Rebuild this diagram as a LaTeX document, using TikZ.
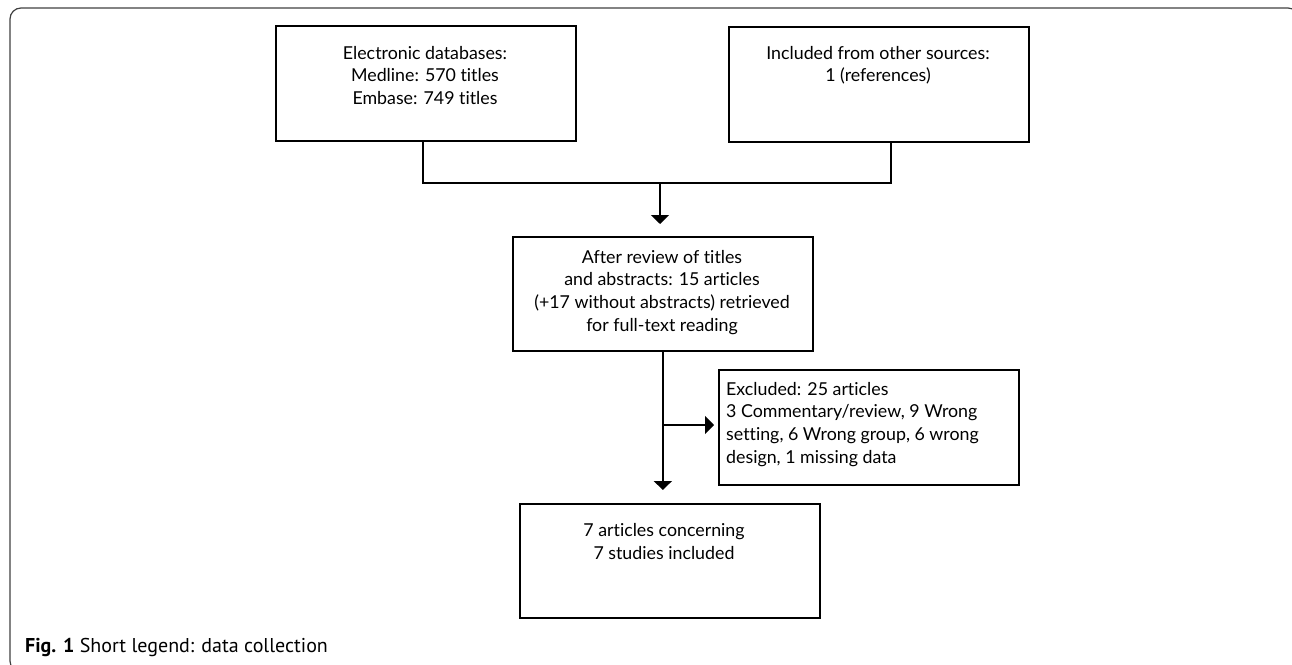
\documentclass[tikz,border=0pt]{standalone}
\usepackage{fontspec}
\setmainfont{PT Sans}
\newfontfamily\boxfont[Ligatures={NoCommon}]{Lato}
\usetikzlibrary{arrows.meta}
\begin{document}
\begin{tikzpicture}[x=1pt,y=-1pt,
  box/.style={draw, line width=1.7pt, inner sep=0pt, anchor=north west},
  txt/.style={inner sep=0pt, font=\boxfont\fontsize{17.8}{22.6}\selectfont},
  conn/.style={line width=1.7pt},
  arr/.style={line width=1.7pt, -{Triangle[width=18pt,length=9pt]}}
]
\useasboundingbox (0,0) rectangle (1292,664);
\clip (0,0) rectangle (1292,664);
% outer frame
\draw[black!75, line width=1.2pt, rounded corners=11pt] (10,8) rectangle (1299,672);
% boxes
\node[box, minimum width=300pt, minimum height=115pt] (b1) at (275,25) {};
\node[box, minimum width=300pt, minimum height=115pt] (b2) at (728,26) {};
\node[box, minimum width=300pt, minimum height=114pt] (b3) at (512,236) {};
\node[box, minimum width=300pt, minimum height=115pt] (b4) at (718,369) {};
\node[box, minimum width=300pt, minimum height=114pt] (b5) at (519,503) {};
% texts
\node[txt, anchor=north, align=center] (t1) at (425,46) {Electronic databases:\\Medline: 570 titles\\Embase: 749 titles};
\node[txt, anchor=north, align=center] (t2) at (878,46) {Included from other sources:\\1 (references)};
\node[txt, anchor=north, align=center] (t3) at (662,250) {After review of titles\\and abstracts: 15 articles\\(+17 without abstracts) retrieved\\for full-text reading};
\node[txt, anchor=north west, align=left] (t4) at (726,382) {Excluded: 25 articles\\3 Commentary/review, 9 Wrong\\setting, 6 Wrong group, 6 wrong\\design, 1 missing data};
\node[txt, anchor=north, align=center] (t5) at (664,523.5) {7 articles concerning\\7 studies included};
% connectors
\coordinate (jl) at (423,183);
\coordinate (jr) at (891,183);
\coordinate (j) at (660,183);
\draw[conn] (b1.south -| jl) -- (jl) -- (jr) -- (b2.south -| jr);
\draw[arr, shorten >=12pt] (j) -- (j |- b3.north);
\coordinate (br) at (662,425);
\coordinate (b4w) at (b4.west |- br);
\draw[arr, shorten >=13pt] (b3.south) -- (b3.south |- b5.north);
\draw[arr, shorten >=4pt] (br) -- (b4w);
% caption
\node[inner sep=0pt, anchor=base west, font=\fontsize{20}{22}\selectfont] (cap) at (25,652) {\textbf{Fig. 1} Short legend: data collection};
\end{tikzpicture}
\end{document}
